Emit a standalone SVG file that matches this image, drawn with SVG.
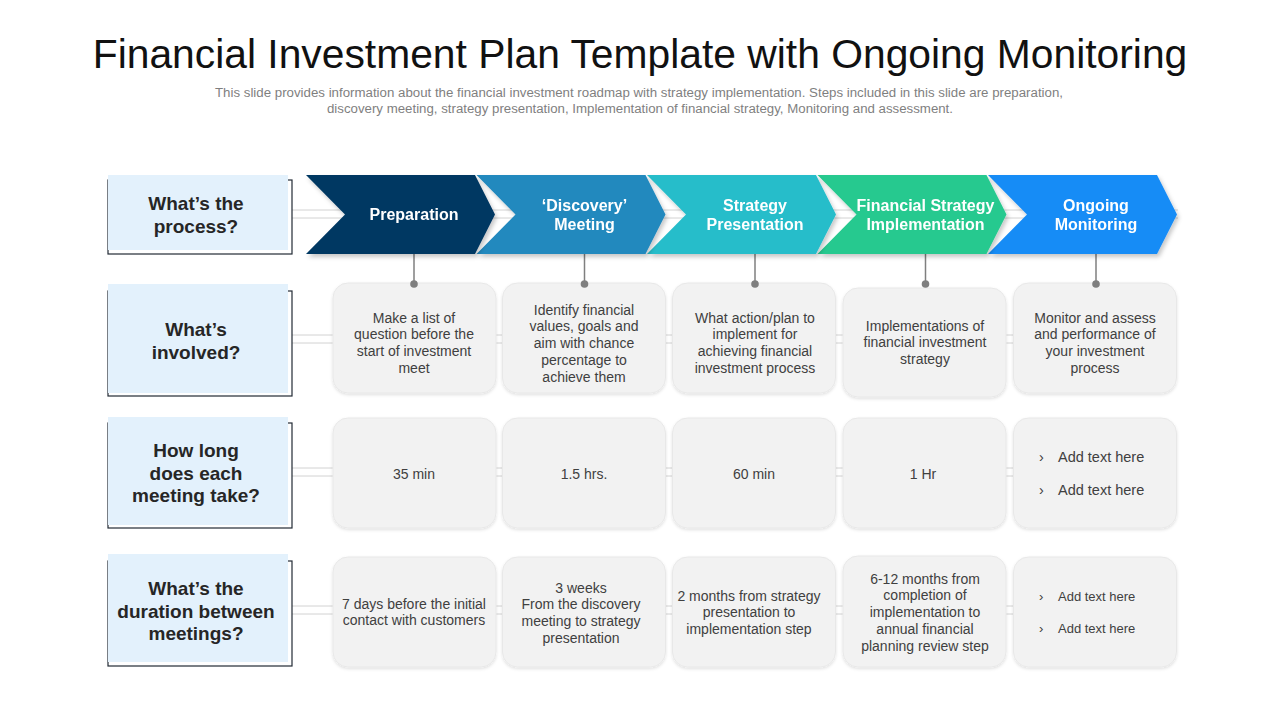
<svg xmlns="http://www.w3.org/2000/svg" width="1280" height="720" viewBox="0 0 1280 720">
<defs>
<filter id="sh" x="-10%" y="-10%" width="130%" height="140%">
<feDropShadow dx="2" dy="3" stdDeviation="2" flood-color="#000" flood-opacity="0.22"/>
</filter>
<filter id="csh" x="-10%" y="-10%" width="120%" height="130%">
<feDropShadow dx="0" dy="1.5" stdDeviation="1.5" flood-color="#000" flood-opacity="0.12"/>
</filter>
<style>
.title{font-family:"Liberation Sans",Arial,sans-serif;font-size:40.8px;fill:#111;text-anchor:middle}
.sub{font-family:"Liberation Sans",Arial,sans-serif;font-size:12.5px;fill:#7f7f7f;text-anchor:middle}
.lbl{font-family:"Liberation Sans",Arial,sans-serif;font-size:19px;font-weight:bold;fill:#262626;text-anchor:middle}
.chv{font-family:"Liberation Sans",Arial,sans-serif;font-size:16px;font-weight:bold;fill:#fff;text-anchor:middle}
.ct{font-family:"Liberation Sans",Arial,sans-serif;font-size:14px;fill:#404040;text-anchor:middle}
.bt{font-family:"Liberation Sans",Arial,sans-serif;font-size:14.5px;fill:#404040}
.bs{font-family:"Liberation Sans",Arial,sans-serif;font-size:13px;fill:#404040}
.lbox{fill:#e3f1fc}
.brk{fill:none;stroke:#222a35;stroke-width:1.2}
.card{fill:#f2f2f2;stroke:#e8e8e8;stroke-width:1}
.dl{stroke:#d2d2d2;stroke-width:1;fill:none}
.vl{stroke:#7f7f7f;stroke-width:1.5}
.dot{fill:#7f7f7f}
</style>
</defs>
<rect width="1280" height="720" fill="#fff"/>

<g id="header">
<text class="title" x="640" y="68">Financial Investment Plan Template with Ongoing Monitoring</text>
<text class="sub" x="639" y="97" textLength="848" lengthAdjust="spacingAndGlyphs">This slide provides information about the financial investment roadmap with strategy implementation. Steps included in this slide are preparation,</text>
<text class="sub" x="640" y="113" textLength="626" lengthAdjust="spacingAndGlyphs">discovery meeting, strategy presentation, Implementation of financial strategy, Monitoring and assessment.</text>
</g>

<g id="connectors">
<path class="dl" d="M292 210H1178M292 218H1178"/>
<path class="dl" d="M292 335H1014M292 343H1014"/>
<path class="dl" d="M292 468H1014M292 476H1014"/>
<path class="dl" d="M292 606H1014M292 614H1014"/>
<line class="vl" x1="414" y1="254" x2="414" y2="284"/>
<line class="vl" x1="584.5" y1="254" x2="584.5" y2="284"/>
<line class="vl" x1="755" y1="254" x2="755" y2="284"/>
<line class="vl" x1="925.5" y1="254" x2="925.5" y2="284"/>
<line class="vl" x1="1096" y1="254" x2="1096" y2="284"/>
</g>

<g id="label-process">
<rect class="brk" x="108" y="180" width="184" height="74"/>
<rect class="lbox" x="108" y="175" width="180" height="75"/>
<text class="lbl" x="196" y="210">What’s the</text>
<text class="lbl" x="196" y="233">process?</text>
</g>
<g id="label-involved">
<rect class="brk" x="108" y="291" width="184" height="105"/>
<rect class="lbox" x="108" y="284" width="180" height="109"/>
<text class="lbl" x="196" y="336">What’s</text>
<text class="lbl" x="196" y="359">involved?</text>
</g>
<g id="label-howlong">
<rect class="brk" x="108" y="423" width="184" height="105"/>
<rect class="lbox" x="108" y="417" width="180" height="108"/>
<text class="lbl" x="196" y="457">How long</text>
<text class="lbl" x="196" y="480">does each</text>
<text class="lbl" x="196" y="502">meeting take?</text>
</g>
<g id="label-duration">
<rect class="brk" x="108" y="561" width="184" height="105"/>
<rect class="lbox" x="108" y="554" width="180" height="108"/>
<text class="lbl" x="196" y="595">What’s the</text>
<text class="lbl" x="196" y="618">duration between</text>
<text class="lbl" x="196" y="640">meetings?</text>
</g>

<g id="step-ongoing" filter="url(#sh)">
<polygon points="988,175 1157,175 1177,214.5 1157,254 988,254 1027,214.5" fill="#168cf6"/>
<text class="chv" x="1096" y="211">Ongoing</text>
<text class="chv" x="1096" y="230">Monitoring</text>
</g>
<g id="step-implementation" filter="url(#sh)">
<polygon points="817.5,175 986.5,175 1006.5,214.5 986.5,254 817.5,254 856.5,214.5" fill="#28c98f"/>
<text class="chv" x="925.5" y="211">Financial Strategy</text>
<text class="chv" x="925.5" y="230">Implementation</text>
</g>
<g id="step-strategy" filter="url(#sh)">
<polygon points="647,175 816,175 836,214.5 816,254 647,254 686,214.5" fill="#25bdca"/>
<text class="chv" x="755" y="211">Strategy</text>
<text class="chv" x="755" y="230">Presentation</text>
</g>
<g id="step-discovery" filter="url(#sh)">
<polygon points="476.5,175 645.5,175 665.5,214.5 645.5,254 476.5,254 515.5,214.5" fill="#2289be"/>
<text class="chv" x="584.5" y="211">‘Discovery’</text>
<text class="chv" x="584.5" y="230">Meeting</text>
</g>
<g id="step-preparation" filter="url(#sh)">
<polygon points="306,175 475,175 495,214.5 475,254 306,254 345,214.5" fill="#043862"/>
<text class="chv" x="414" y="220">Preparation</text>
</g>

<g id="involved-preparation">
<rect class="card" filter="url(#csh)" x="333" y="283" width="163" height="110" rx="15"/>
<text class="ct" x="414" y="323">Make a list of</text>
<text class="ct" x="414" y="339">question before the</text>
<text class="ct" x="414" y="356">start of investment</text>
<text class="ct" x="414" y="373">meet</text>
</g>
<g id="involved-discovery">
<rect class="card" filter="url(#csh)" x="502.5" y="283" width="163" height="110" rx="15"/>
<text class="ct" x="584" y="315">Identify financial</text>
<text class="ct" x="584" y="331">values, goals and</text>
<text class="ct" x="584" y="348">aim with chance</text>
<text class="ct" x="584" y="365">percentage to</text>
<text class="ct" x="584" y="382">achieve them</text>
</g>
<g id="involved-strategy">
<rect class="card" filter="url(#csh)" x="672.5" y="283" width="163" height="110" rx="15"/>
<text class="ct" x="755" y="323">What action/plan to</text>
<text class="ct" x="755" y="339">implement for</text>
<text class="ct" x="755" y="356">achieving financial</text>
<text class="ct" x="755" y="373">investment process</text>
</g>
<g id="involved-implementation">
<rect class="card" filter="url(#csh)" x="843" y="288" width="163" height="109" rx="15"/>
<text class="ct" x="925" y="331">Implementations of</text>
<text class="ct" x="925" y="347">financial investment</text>
<text class="ct" x="925" y="364">strategy</text>
</g>
<g id="involved-monitoring">
<rect class="card" filter="url(#csh)" x="1013.5" y="283" width="163" height="110" rx="15"/>
<text class="ct" x="1095" y="323">Monitor and assess</text>
<text class="ct" x="1095" y="339">and performance of</text>
<text class="ct" x="1095" y="356">your investment</text>
<text class="ct" x="1095" y="373">process</text>
</g>

<g id="dots">
<circle class="dot" cx="414" cy="284" r="3.8"/>
<circle class="dot" cx="584.5" cy="284" r="3.8"/>
<circle class="dot" cx="755" cy="284" r="3.8"/>
<circle class="dot" cx="925.5" cy="284" r="3.8"/>
<circle class="dot" cx="1096" cy="284" r="3.8"/>
</g>

<g id="howlong-preparation">
<rect class="card" filter="url(#csh)" x="333" y="418" width="163" height="110" rx="15"/>
<text class="ct" x="414" y="479">35 min</text>
</g>
<g id="howlong-discovery">
<rect class="card" filter="url(#csh)" x="502.5" y="418" width="163" height="110" rx="15"/>
<text class="ct" x="584" y="479">1.5 hrs.</text>
</g>
<g id="howlong-strategy">
<rect class="card" filter="url(#csh)" x="672.5" y="418" width="163" height="110" rx="15"/>
<text class="ct" x="754" y="479">60 min</text>
</g>
<g id="howlong-implementation">
<rect class="card" filter="url(#csh)" x="843" y="418" width="163" height="110" rx="15"/>
<text class="ct" x="923" y="479">1 Hr</text>
</g>
<g id="howlong-monitoring">
<rect class="card" filter="url(#csh)" x="1013.5" y="418" width="163" height="110" rx="15"/>
<text class="bt" x="1039" y="462">›</text>
<text class="bt" x="1058" y="462">Add text here</text>
<text class="bt" x="1039" y="495">›</text>
<text class="bt" x="1058" y="495">Add text here</text>
</g>

<g id="duration-preparation">
<rect class="card" filter="url(#csh)" x="333" y="557" width="163" height="110" rx="15"/>
<text class="ct" x="414" y="609">7 days before the initial</text>
<text class="ct" x="414" y="625">contact with customers</text>
</g>
<g id="duration-discovery">
<rect class="card" filter="url(#csh)" x="502.5" y="557" width="163" height="110" rx="15"/>
<text class="ct" x="581" y="593">3 weeks</text>
<text class="ct" x="581" y="609">From the discovery</text>
<text class="ct" x="581" y="626">meeting to strategy</text>
<text class="ct" x="581" y="643">presentation</text>
</g>
<g id="duration-strategy">
<rect class="card" filter="url(#csh)" x="672.5" y="557" width="163" height="110" rx="15"/>
<text class="ct" x="749" y="601">2 months from strategy</text>
<text class="ct" x="749" y="617">presentation to</text>
<text class="ct" x="749" y="634">implementation step</text>
</g>
<g id="duration-implementation">
<rect class="card" filter="url(#csh)" x="843" y="556" width="163" height="111" rx="15"/>
<text class="ct" x="925" y="584">6-12 months from</text>
<text class="ct" x="925" y="600">completion of</text>
<text class="ct" x="925" y="617">implementation to</text>
<text class="ct" x="925" y="634">annual financial</text>
<text class="ct" x="925" y="651">planning review step</text>
</g>
<g id="duration-monitoring">
<rect class="card" filter="url(#csh)" x="1013.5" y="557" width="163" height="110" rx="15"/>
<text class="bs" x="1039" y="601">›</text>
<text class="bs" x="1058" y="601">Add text here</text>
<text class="bs" x="1039" y="633">›</text>
<text class="bs" x="1058" y="633">Add text here</text>
</g>
</svg>
